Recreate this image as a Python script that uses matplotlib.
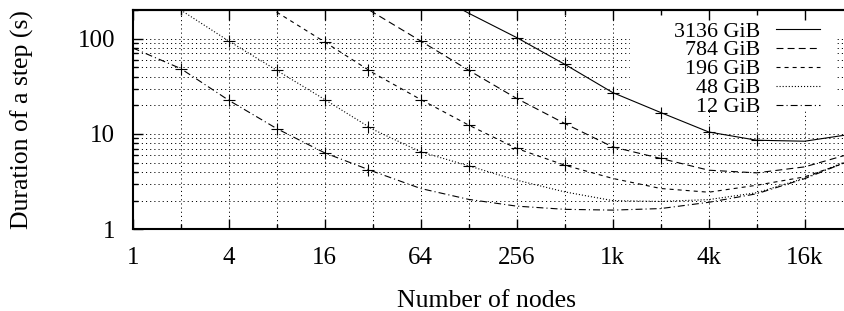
import numpy as np
import matplotlib
matplotlib.use('Agg')
import matplotlib.pyplot as plt
from matplotlib.patches import Rectangle
from matplotlib.lines import Line2D
from matplotlib.ticker import NullFormatter

plt.rcParams['font.family'] = ['Liberation Serif', 'DejaVu Serif']
plt.rcParams['lines.scale_dashes'] = False

nan = np.nan

# ---------------- data ----------------
nodes = [1, 2, 4, 8, 16, 32, 64, 128, 256, 512, 1024, 2048, 4096, 8192, 16384, 32768]

series_labels = ['3136 GiB', '784 GiB', '196 GiB', '48 GiB', '12 GiB']

t_3136 = [nan, nan, nan, nan, nan, nan, 345, 185, 102.7, 53.9, 27.2, 16.8, 10.5, 8.6, 8.4, 10.0]
t_784 = [nan, nan, nan, nan, 380, 190, 94.6, 46.6, 23.6, 12.9, 7.32, 5.54, 4.17, 3.91, 4.52, 6.3]
t_196 = [nan, nan, 400, 190, 92.3, 44.0, 23.0, 12.4, 7.05, 4.71, 3.42, 2.68, 2.45, 2.9, 3.55, 5.3]
t_48 = [400, 200, 94.6, 46.6, 23.0, 11.2, 6.5, 4.63, 3.28, 2.47, 2.0, 1.96, 2.05, 2.42, 3.44, 5.5]
t_12 = [80, 48.6, 22.6, 11.4, 6.34, 4.07, 2.68, 2.06, 1.75, 1.62, 1.59, 1.65, 1.92, 2.36, 3.4, 5.4]

m_3136_n = [256, 512, 1024, 2048, 4096, 8192]
m_3136_t = [102.7, 53.9, 27.2, 16.8, 10.5, 8.6]
m_784_n = [64, 128, 256, 512, 1024, 2048]
m_784_t = [94.6, 46.6, 23.6, 12.9, 7.32, 5.54]
m_196_n = [16, 30, 64, 128, 256, 512]
m_196_t = [92.3, 46.6, 23.0, 12.4, 7.05, 4.71]
m_48_n = [4, 8, 16, 30, 64, 128]
m_48_t = [94.6, 46.6, 23.0, 11.9, 6.5, 4.63]
m_12_n = [2, 4, 8, 16, 30]
m_12_t = [48.6, 22.6, 11.4, 6.34, 4.17]

x_ticks = [1, 4, 16, 64, 256, 1024, 4096, 16384]
x_tick_labels = ['1', '4', '16', '64', '256', '1k', '4k', '16k']
x_minor = [2, 8, 32, 128, 512, 2048, 8192]
y_ticks = [1, 10, 100]
y_tick_labels = ['1', '10', '100']
y_minor = [2, 3, 4, 5, 6, 7, 8, 9, 20, 30, 40, 50, 60, 70, 80, 90, 200]

# ---------------- styles ----------------
curves = [t_3136, t_784, t_196, t_48, t_12]
marks = [(m_3136_n, m_3136_t), (m_784_n, m_784_t), (m_196_n, m_196_t),
         (m_48_n, m_48_t), (m_12_n, m_12_t)]
styles = ['-', (0, (5.0, 3.0)), (0, (2.9, 2.9)), (0, (0.8, 1.4)),
          (0, (5.0, 2.2, 0.8, 2.2))]

W, H = 845, 311
L, R, T, B = 132.7, 845.0, 10.0, 229.3

fig = plt.figure(figsize=(W / 100, H / 100), dpi=100)
ax = fig.add_axes([L / W, 1 - B / H, (R - L) / W, (B - T) / H])
ax.set_xscale('log', base=2)
ax.set_yscale('log')
ax.set_xlim(1, 2 ** ((R - L) / 48.0))
ax.set_ylim(1, 200)
ax.set_axisbelow(True)


def axx(px):
    return (px - L) / (R - L)


def axy(py):
    return (B - py) / (B - T)


for vals, (mn, mt), ls in zip(curves, marks, styles):
    ax.plot(nodes, vals, color='black', lw=0.8, linestyle=ls, zorder=2)
    ax.plot(mn, mt, linestyle='none', marker='+', markersize=8, mew=0.8,
            color='black', zorder=2)

# ticks & grid
ax.set_xticks(x_ticks, x_tick_labels)
ax.set_xticks(x_minor, minor=True)
ax.xaxis.set_minor_formatter(NullFormatter())
ax.set_yticks(y_ticks, y_tick_labels)
ax.set_yticks(y_minor, minor=True)
ax.yaxis.set_minor_formatter(NullFormatter())
ax.tick_params(which='both', direction='in', top=False, right=False,
               labelsize=18, width=1.0, pad=12.5)
ax.tick_params(which='major', length=7.2)
ax.tick_params(which='minor', length=3.6)
ax.grid(True, which='both', color='black', lw=0.7, linestyle=(0, (0.8, 2.2)))

for s in ['left', 'bottom', 'top']:
    ax.spines[s].set_linewidth(1.5)
ax.spines['right'].set_visible(False)

# top mirrored ticks above the key box
sec = ax.secondary_xaxis('top')
sec.set_xticks(x_ticks)
sec.set_xticks(x_minor, minor=True)
sec.xaxis.set_major_formatter(NullFormatter())
sec.xaxis.set_minor_formatter(NullFormatter())
sec.tick_params(which='both', direction='in', width=1.0, labeltop=False)
sec.tick_params(which='major', length=7.2)
sec.tick_params(which='minor', length=3.6)
sec.spines['top'].set_linewidth(1.5)
sec.set_zorder(3)

# key (opaque white box, right-aligned labels, samples on the right)
ax.add_patch(Rectangle((axx(630), axy(111)), axx(836) - axx(630), axy(12) - axy(111),
                       transform=ax.transAxes, facecolor='white', edgecolor='none',
                       zorder=1))
row0, dy = 29.8, 18.8
for i, (lab, ls) in enumerate(zip(series_labels, styles)):
    yc = row0 + i * dy
    ax.text(axx(760), axy(yc + 6.8), lab, transform=ax.transAxes, ha='right',
            va='baseline', fontsize=15.8, zorder=4)
    ax.add_line(Line2D([axx(776), axx(820)], [axy(yc - 0.5), axy(yc - 0.5)],
                       transform=ax.transAxes, color='black', lw=0.8,
                       linestyle=ls, zorder=4))

fig.text(486.5 / W, 1 - 306.7 / H, 'Number of nodes', ha='center', va='baseline',
         fontsize=18.5)
fig.text(11 / W, 1 - 120 / H, 'Duration of a step (s)', ha='left', va='center',
         rotation=90, fontsize=18.5)

fig.savefig('out.png', dpi=100)
